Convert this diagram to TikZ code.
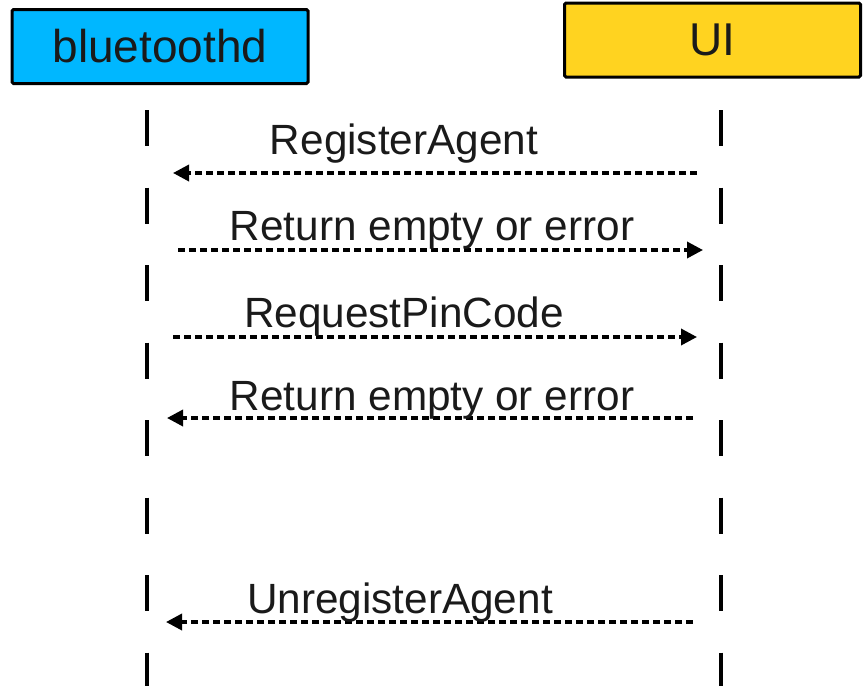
\documentclass[tikz,border=0pt]{standalone}
\usepackage{fontspec}
\setmainfont{Liberation Sans}
\usetikzlibrary{arrows.meta, positioning}
\definecolor{btblue}{RGB}{0,183,255}
\definecolor{uiyellow}{RGB}{255,211,32}
\definecolor{txtgray}{RGB}{26,26,26}

\begin{document}
\begin{tikzpicture}[x=1pt,y=-1pt,
    actor/.style={draw=black,line width=3pt,rounded corners=1.5pt,minimum width=296pt,minimum height=74pt,inner sep=0pt,text=txtgray,font=\fontsize{46}{55}\selectfont},
    lifeline/.style={line width=3.5pt,dash pattern=on 36pt off 41.5pt},
    msg/.style={line width=3.5pt,dash pattern=on 7pt off 4pt,-{Triangle[length=16pt,width=16pt]}},
    msglabel/.style={anchor=base,text=txtgray,font=\fontsize{42.3}{50}\selectfont}]
    \useasboundingbox (0,0) rectangle (864,686);
    % participants
    \node[actor,fill=btblue] (bt) at (160,46.5) {bluetoothd};
    \node[actor,fill=uiyellow] (ui) at (712.5,40) {UI};
    % lifelines
    \coordinate (bt-top) at (147,110);
    \coordinate (bt-end) at (147,686);
    \coordinate (ui-top) at (721,110);
    \coordinate (ui-end) at (721,686);
    \draw[lifeline] (bt-top) -- (bt-end);
    \draw[lifeline] (ui-top) -- (ui-end);
    % messages
    \foreach \n/\xs/\xe/\yy/\lx/\ly/\txt in {
        reg/697/173/173/404/154/RegisterAgent,
        ret1/178/703/250/432/240/Return empty or error,
        req/173/697/337/404/327/RequestPinCode,
        ret2/693/167/418/432/410/Return empty or error,
        unreg/693/166/622/400/613/UnregisterAgent} {
        \coordinate (\n-from) at (\xs,\yy);
        \coordinate (\n-to) at (\xe,\yy);
        \draw[msg] (\n-from) -- (\n-to);
        \node[msglabel] (\n-label) at (\lx,\ly) {\txt};
    }
\end{tikzpicture}
\end{document}
